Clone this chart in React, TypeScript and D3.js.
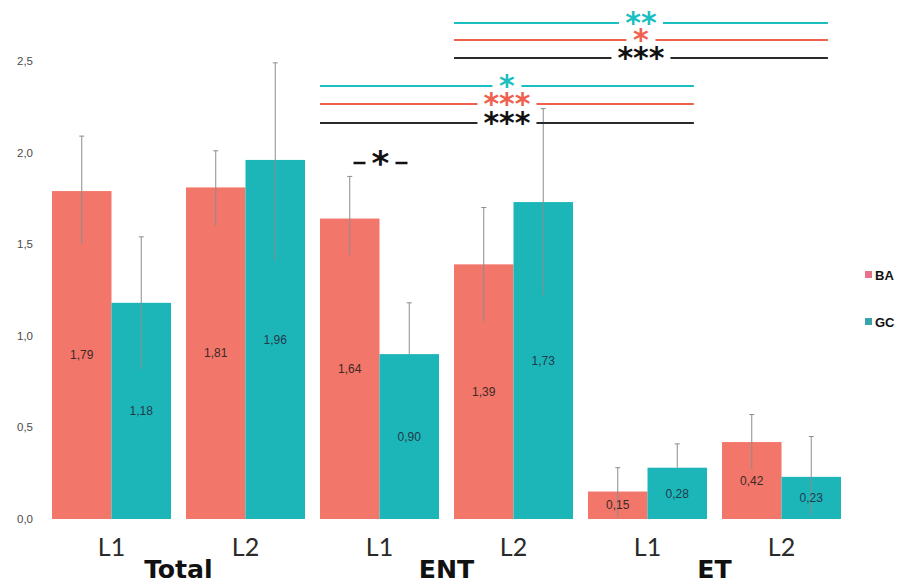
import React from "react";
import * as d3 from "d3";

const groups = ["Total", "ENT", "ET"];
const levels = ["L1", "L2"];
const categories = ["Total L1", "Total L2", "ENT L1", "ENT L2", "ET L1", "ET L2"];
const series = ["BA", "GC"];
const baValues = [1.79, 1.81, 1.64, 1.39, 0.15, 0.42];
const gcValues = [1.18, 1.96, 0.9, 1.73, 0.28, 0.23];
const baErrUp = [0.3, 0.2, 0.23, 0.31, 0.13, 0.15];
const baErrDown = [0.29, 0.21, 0.2, 0.31, 0.14, 0.15];
const gcErrUp = [0.36, 0.53, 0.28, 0.51, 0.13, 0.22];
const gcErrDown = [0.36, 0.55, 0, 0.51, 0, 0.21];
const yTicks = [0, 0.5, 1, 1.5, 2, 2.5];

// significance brackets: from category, to category, label, series colour key
const brackets = [
  { from: "ENT L2", to: "ET L2", label: "**", key: "GC", row: 0 },
  { from: "ENT L2", to: "ET L2", label: "*", key: "BA", row: 1 },
  { from: "ENT L2", to: "ET L2", label: "***", key: "ALL", row: 2 },
  { from: "ENT L1", to: "ET L1", label: "*", key: "GC", row: 3 },
  { from: "ENT L1", to: "ET L1", label: "***", key: "BA", row: 4 },
  { from: "ENT L1", to: "ET L1", label: "***", key: "ALL", row: 5 },
];
const pairSig = { category: "ENT L1", label: "*" };

const W = 898;
const H = 584;
const colors: Record<string, string> = { BA: "#F3766A", GC: "#1DB6B8", ALL: "#222222" };
const lineColors: Record<string, string> = { BA: "#F0604E", GC: "#1BBFC2", ALL: "#2a2a2a" };
const legendColors: Record<string, string> = { BA: "#E8728C", GC: "#38A3A8" };

const fmt = (v: number) => v.toFixed(2).replace(".", ",");
const fmtTick = (v: number) => v.toFixed(1).replace(".", ",");

export default function App() {
  const x = d3.scaleBand<string>().domain(categories).range([52, 841]).paddingInner(0.112).paddingOuter(0);
  const bw = x.bandwidth();
  const xs = d3.scaleBand<string>().domain(series).range([0, bw]).padding(0);
  const y = d3.scaleLinear().domain([0, 2.5]).range([519, 61]);

  const rowY = [23, 40, 58, 86, 104, 123];
  const starFont = 30;
  const starW = 15;

  const bars: any[] = [];
  categories.forEach((c, i) => {
    [
      { s: "BA", v: baValues[i], up: baErrUp[i], down: baErrDown[i] },
      { s: "GC", v: gcValues[i], up: gcErrUp[i], down: gcErrDown[i] },
    ].forEach((d) => bars.push({ c, ...d }));
  });

  return (
    <svg width={W} height={H} style={{ position: "absolute", left: 0, top: 0, background: "#fff" }}
      fontFamily="'Liberation Sans', Arial, sans-serif">
      {/* y tick labels */}
      {yTicks.map((t) => (
        <text key={t} x={33} y={y(t)} dy="0.35em" textAnchor="end" fontSize={11.5} fill="#4a4a4a">
          {fmtTick(t)}
        </text>
      ))}

      {/* bars */}
      {bars.map((b, i) => {
        const bx = (x(b.c) as number) + (xs(b.s) as number);
        const w = xs.bandwidth();
        return (
          <rect key={"r" + i} x={bx} y={y(b.v)} width={w} height={y(0) - y(b.v)} fill={colors[b.s]} />
        );
      })}

      {/* error bars */}
      {bars.map((b, i) => {
        const cx = (x(b.c) as number) + (xs(b.s) as number) + xs.bandwidth() / 2;
        const yt = y(b.v + b.up);
        const yb = y(b.v - b.down);
        return (
          <g key={"e" + i} stroke="#8c8c8c" strokeWidth={1}>
            <line x1={cx} x2={cx} y1={yt} y2={yb} />
            <line x1={cx - 2.5} x2={cx + 2.5} y1={yt} y2={yt} />
          </g>
        );
      })}

      {/* value labels */}
      {bars.map((b, i) => {
        const cx = (x(b.c) as number) + (xs(b.s) as number) + xs.bandwidth() / 2;
        return (
          <text key={"l" + i} x={cx} y={(y(b.v) + y(0)) / 2} dy="0.35em" textAnchor="middle"
            fontSize={12} fill={b.s === "BA" ? "#3a2a28" : "#1f3a4c"}>
            {fmt(b.v)}
          </text>
        );
      })}

      {/* level labels */}
      {categories.map((c, i) => (
        <text key={"lv" + i} x={(x(c) as number) + bw / 2} y={556} textAnchor="middle" fontSize={25}
          fontFamily="Lato, 'Open Sans', sans-serif" fontWeight={400} fill="#2a2a2a">
          {levels[i % 2]}
        </text>
      ))}

      {/* group labels */}
      {groups.map((g, gi) => {
        const c1 = categories[gi * 2];
        const c2 = categories[gi * 2 + 1];
        const cx = ((x(c1) as number) + bw / 2 + (x(c2) as number) + bw / 2) / 2;
        return (
          <text key={"g" + gi} x={cx} y={578} textAnchor="middle" fontSize={25} fontWeight="bold"
            fontFamily="'Liberation Sans Narrow', 'DejaVu Sans Condensed', Arial, sans-serif" fill="#111"
            transform={`translate(${cx},0) scale(1.12,1) translate(${-cx},0)`}>
            {g}
          </text>
        );
      })}

      {/* significance brackets */}
      {brackets.map((b, i) => {
        const x1 = x(b.from) as number;
        const x2 = (x(b.to) as number) + bw * 0.89;
        const cx = (x1 + x2) / 2;
        const ly = rowY[b.row];
        const half = (b.label.length * starW) / 2 + 7;
        return (
          <g key={"b" + i}>
            <line x1={x1} x2={cx - half} y1={ly} y2={ly} stroke={lineColors[b.key]} strokeWidth={2} />
            <line x1={cx + half} x2={x2} y1={ly} y2={ly} stroke={lineColors[b.key]} strokeWidth={2} />
            <text x={cx} y={ly + 10} textAnchor="middle" fontSize={starFont} fontWeight="bold"
              fontFamily="'DejaVu Sans', sans-serif" fill={b.key === "ALL" ? "#111" : lineColors[b.key]}>
              {b.label}
            </text>
          </g>
        );
      })}

      {/* pairwise significance */}
      {(() => {
        const cx = (x(pairSig.category) as number) + bw / 2 + 1;
        const cy = 163;
        return (
          <g>
            <line x1={cx - 27} x2={cx - 15} y1={cy} y2={cy} stroke="#111" strokeWidth={2.5} />
            <line x1={cx + 15} x2={cx + 27} y1={cy} y2={cy} stroke="#111" strokeWidth={2.5} />
            <text x={cx} y={cy + 12} textAnchor="middle" fontSize={34} fontWeight="bold"
              fontFamily="'DejaVu Sans', sans-serif" fill="#111">
              {pairSig.label}
            </text>
          </g>
        );
      })()}

      {/* legend */}
      {series.map((s, i) => (
        <g key={"lg" + s} transform={`translate(865,${275 + i * 47})`}>
          <rect x={0} y={-4} width={7} height={7} fill={legendColors[s]} />
          <text x={10} y={0} dy="0.36em" fontSize={13} fontWeight="bold" fill="#111">
            {s}
          </text>
        </g>
      ))}
    </svg>
  );
}
